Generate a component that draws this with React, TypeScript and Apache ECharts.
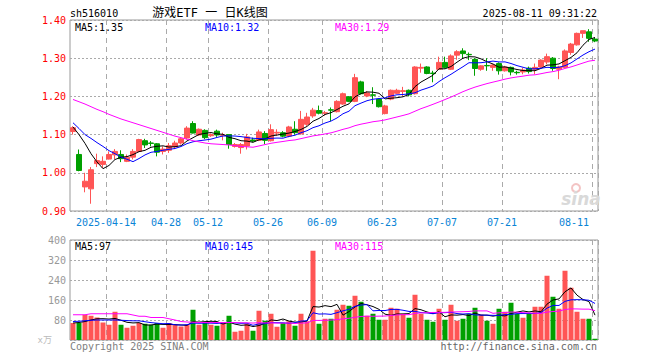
import React, { useEffect, useRef } from "react";
import * as echarts from "echarts";

const dates = [
  "2025-04-03",
  "2025-04-07","2025-04-08","2025-04-09","2025-04-10","2025-04-11",
  "2025-04-14","2025-04-15","2025-04-16","2025-04-17","2025-04-18",
  "2025-04-21","2025-04-22","2025-04-23","2025-04-24","2025-04-25",
  "2025-04-28","2025-04-29","2025-04-30",
  "2025-05-06","2025-05-07","2025-05-08","2025-05-09",
  "2025-05-12","2025-05-13","2025-05-14","2025-05-15","2025-05-16",
  "2025-05-19","2025-05-20","2025-05-21","2025-05-22","2025-05-23",
  "2025-05-26","2025-05-27","2025-05-28","2025-05-29","2025-05-30",
  "2025-06-03","2025-06-04","2025-06-05","2025-06-06",
  "2025-06-09","2025-06-10","2025-06-11","2025-06-12","2025-06-13",
  "2025-06-16","2025-06-17","2025-06-18","2025-06-19","2025-06-20",
  "2025-06-23","2025-06-24","2025-06-25","2025-06-26","2025-06-27",
  "2025-06-30","2025-07-01","2025-07-02","2025-07-03","2025-07-04",
  "2025-07-07","2025-07-08","2025-07-09","2025-07-10","2025-07-11",
  "2025-07-14","2025-07-15","2025-07-16","2025-07-17","2025-07-18",
  "2025-07-21","2025-07-22","2025-07-23","2025-07-24","2025-07-25",
  "2025-07-28","2025-07-29","2025-07-30","2025-07-31","2025-08-01",
  "2025-08-04","2025-08-05","2025-08-06","2025-08-07","2025-08-08",
  "2025-08-11",
];

const opens = [
  1.108,1.048,0.963,0.958,1.024,1.022,1.036,1.047,1.048,1.030,
  1.041,1.056,1.084,1.078,1.076,1.056,1.059,1.068,1.078,1.091,
  1.129,1.099,1.111,1.097,1.109,1.098,1.100,1.069,1.066,1.070,
  1.086,1.085,1.103,1.084,1.104,1.105,1.096,1.114,1.102,1.127,
  1.149,1.163,1.156,1.165,1.160,1.180,1.199,1.187,1.238,1.201,
  1.204,1.193,1.155,1.193,1.208,1.213,1.216,1.207,1.274,1.277,
  1.261,1.271,1.289,1.271,1.308,1.319,1.310,1.297,1.271,1.281,
  1.276,1.286,1.267,1.276,1.263,1.264,1.274,1.271,1.277,1.290,
  1.300,1.271,1.276,1.315,1.335,1.365,1.369,1.350,
];
const closes = [
  1.118,1.006,0.978,1.008,1.032,1.030,1.048,1.056,1.037,1.041,
  1.056,1.087,1.073,1.077,1.054,1.062,1.071,1.078,1.089,1.117,
  1.104,1.114,1.092,1.100,1.099,1.099,1.074,1.074,1.074,1.094,
  1.083,1.107,1.085,1.113,1.106,1.096,1.120,1.105,1.140,1.146,
  1.164,1.156,1.157,1.164,1.187,1.207,1.187,1.249,1.207,1.209,
  1.203,1.173,1.175,1.216,1.216,1.215,1.204,1.277,1.276,1.260,
  1.260,1.289,1.276,1.306,1.317,1.312,1.309,1.273,1.280,1.280,
  1.282,1.267,1.277,1.264,1.262,1.269,1.265,1.276,1.295,1.304,
  1.273,1.277,1.319,1.337,1.365,1.372,1.352,1.345,
];
const lows = [
  1.100,1.004,0.949,0.919,1.015,1.013,1.035,1.035,1.028,1.028,
  1.035,1.054,1.065,1.069,1.043,1.048,1.052,1.062,1.074,1.087,
  1.103,1.097,1.088,1.094,1.094,1.085,1.063,1.066,1.050,1.061,
  1.080,1.083,1.075,1.082,1.097,1.093,1.093,1.100,1.100,1.123,
  1.144,1.153,1.150,1.135,1.158,1.178,1.185,1.185,1.205,1.198,
  1.180,1.171,1.153,1.190,1.206,1.201,1.200,1.205,1.262,1.258,
  1.237,1.269,1.273,1.269,1.296,1.300,1.295,1.254,1.267,1.267,
  1.267,1.257,1.265,1.255,1.257,1.258,1.260,1.258,1.274,1.284,
  1.267,1.245,1.274,1.309,1.333,1.353,1.343,1.342,
];
const highs = [
  1.122,1.061,1.000,1.015,1.050,1.043,1.056,1.062,1.059,1.048,
  1.062,1.089,1.089,1.083,1.078,1.069,1.078,1.084,1.092,1.122,
  1.135,1.116,1.114,1.103,1.113,1.105,1.100,1.078,1.078,1.102,
  1.092,1.113,1.109,1.127,1.114,1.109,1.123,1.135,1.162,1.157,
  1.170,1.176,1.162,1.171,1.190,1.210,1.201,1.259,1.241,1.214,
  1.224,1.195,1.178,1.218,1.220,1.225,1.218,1.279,1.286,1.279,
  1.267,1.304,1.304,1.310,1.321,1.326,1.315,1.300,1.282,1.300,
  1.284,1.289,1.280,1.278,1.267,1.275,1.278,1.286,1.297,1.312,
  1.303,1.280,1.323,1.340,1.367,1.372,1.376,1.354,
];
// volume, 万
const volumes = [
  68,68,101,97,90,70,61,113,61,49,
  57,68,65,61,68,49,68,61,54,61,
  121,61,70,61,57,70,97,33,37,65,
  37,117,77,105,53,68,75,57,105,75,
  357,65,85,85,121,141,137,177,153,97,
  105,81,81,129,125,105,89,181,105,81,
  73,125,81,141,77,85,105,129,101,77,
  65,125,113,149,105,89,105,133,133,257,
  173,125,277,209,113,85,85,5,
];

// moving-average values before enough bars exist in view
const ma5Head = [1.120, 1.100, 1.077, 1.050];
const ma10Head = [1.131, 1.116, 1.100, 1.090, 1.079, 1.069, 1.058, 1.050, 1.041];
const ma30Head = [
  1.192,1.186,1.180,1.173,1.166,1.160,1.153,1.147,1.141,1.136,
  1.131,1.126,1.121,1.116,1.111,1.106,1.101,1.096,1.092,1.088,
  1.084,1.081,1.078,1.076,1.075,1.074,1.073,1.071,1.069,
];
const vma5Head = [68, 70, 74, 80];
const vma10Head = [74, 75, 77, 79, 80, 80, 80, 80, 79];
const vma30Head = [
  101,101,101,105,105,105,105,105,105,105,
  100,95,95,90,90,90,85,80,74,72,
  71,70,70,70,70,70,70,70,69,
];

const xTickDates = [
  "2025-04-14","2025-04-28","2025-05-12","2025-05-26","2025-06-09",
  "2025-06-23","2025-07-07","2025-07-21","2025-08-11",
];
const priceTicks = { min: 0.9, max: 1.4, step: 0.1 };
const volTicks = { min: 0, max: 400, step: 80 };

const priceLegend = ["MA5:1.35", "MA10:1.32", "MA30:1.29"];
const volLegend = ["MA5:97", "MA10:145", "MA30:115"];

const RED = "#ff5555";
const GREEN = "#00a000";
const MONO = "'DejaVu Sans Mono','Liberation Mono',monospace";
const CJK = "'DejaVu Sans Mono','Noto Sans CJK SC',sans-serif";

function movingAvg(vals: number[], n: number, head: number[], digits: number) {
  return vals.map((_, i) => {
    if (i < head.length) return head[i];
    let s = 0;
    for (let k = i - n + 1; k <= i; k++) s += vals[k];
    return +(s / n).toFixed(digits);
  });
}

export default function App() {
  const ref = useRef<HTMLDivElement>(null);
  useEffect(() => {
    if (!ref.current) return;
    const chart = echarts.init(ref.current, undefined, { renderer: "svg" });
    const tickIdx = new Set(xTickDates.map((d) => dates.indexOf(d)));
    const firstIdx = dates.indexOf(xTickDates[0]);
    const showTick = (i: number) => tickIdx.has(i);

    const ma5 = movingAvg(closes, 5, ma5Head, 4);
    const ma10 = movingAvg(closes, 10, ma10Head, 4);
    const ma30 = movingAvg(closes, 30, ma30Head, 4);
    const vma5 = movingAvg(volumes, 5, vma5Head, 1);
    const vma10 = movingAvg(volumes, 10, vma10Head, 1);
    const vma30 = movingAvg(volumes, 30, vma30Head, 1);

    const vSplit = {
      show: true,
      interval: (i: number) => showTick(i),
      lineStyle: { color: "#aaaaaa", type: [5, 4] as any, width: 1 },
    };
    const hSplit = {
      show: true,
      lineStyle: { color: "#aaaaaa", type: [2, 2] as any, width: 1 },
    };
    const lineS = (name: string, data: number[], color: string, xi: number) => ({
      name,
      type: "line",
      xAxisIndex: xi,
      yAxisIndex: xi,
      data,
      showSymbol: false,
      symbol: "none",
      lineStyle: { color, width: 1 },
      itemStyle: { color },
      z: 5,
    });
    const txt = (x: number, y: number, text: string, fill: string, opts: any = {}) => ({
      type: "text",
      x,
      y,
      silent: true,
      style: {
        text,
        fill,
        font: `${opts.size || 10}px ${opts.family || MONO}`,
        textAlign: opts.align || "left",
        textVerticalAlign: "middle",
        verticalAlign: "middle",
      },
      z: 10,
    });

    chart.setOption({
      animation: false,
      backgroundColor: "#ffffff",
      grid: [
        { left: 70, top: 20, width: 528, height: 191, show: true, borderColor: "#999999", borderWidth: 1 },
        { left: 70, top: 240, width: 528, height: 100, show: true, borderColor: "#999999", borderWidth: 1 },
      ],
      xAxis: [
        {
          type: "category",
          gridIndex: 0,
          data: dates,
          boundaryGap: true,
          axisLine: { show: false },
          axisTick: { show: false },
          axisLabel: {
            interval: (i: number) => showTick(i),
            formatter: (v: string, i: number) => (i === firstIdx ? v : v.slice(5)),
            color: "#0a84d6",
            fontFamily: MONO,
            fontSize: 10,
            margin: 6,
            padding: [0, 6, 0, 0],
            alignMaxLabel: "right",
          },
          splitLine: vSplit,
        },
        {
          type: "category",
          gridIndex: 1,
          data: dates,
          boundaryGap: true,
          axisLine: { show: false },
          axisTick: { show: false },
          axisLabel: { show: false },
          splitLine: vSplit,
        },
      ],
      yAxis: [
        {
          type: "value",
          gridIndex: 0,
          min: priceTicks.min,
          max: priceTicks.max,
          interval: priceTicks.step,
          axisLine: { show: false },
          axisTick: { show: false },
          axisLabel: {
            color: "#ff0000",
            fontFamily: MONO,
            fontSize: 10,
            margin: 4,
            formatter: (v: number) => v.toFixed(2),
          },
          splitLine: hSplit,
        },
        {
          type: "value",
          gridIndex: 1,
          min: volTicks.min,
          max: volTicks.max,
          interval: volTicks.step,
          axisLine: { show: false },
          axisTick: { show: false },
          axisLabel: {
            color: "#999999",
            fontFamily: MONO,
            fontSize: 10,
            margin: 4,
            formatter: (v: number) => (v === 0 ? "" : String(v)),
          },
          splitLine: hSplit,
        },
      ],
      series: [
        {
          name: "K",
          type: "candlestick",
          xAxisIndex: 0,
          yAxisIndex: 0,
          barWidth: 5,
          data: dates.map((_, i) => [opens[i], closes[i], lows[i], highs[i]]),
          itemStyle: {
            color: RED,
            color0: GREEN,
            borderColor: RED,
            borderColor0: GREEN,
            borderWidth: 1,
          },
          z: 3,
        },
        lineS("MA5", ma5, "#000000", 0),
        lineS("MA10", ma10, "#0000ff", 0),
        lineS("MA30", ma30, "#ff00ff", 0),
        {
          name: "VOL",
          type: "bar",
          xAxisIndex: 1,
          yAxisIndex: 1,
          barWidth: 5,
          data: volumes.map((v, i) => ({
            value: v,
            itemStyle: { color: closes[i] >= opens[i] ? RED : GREEN },
          })),
          z: 3,
        },
        lineS("VMA5", vma5, "#000000", 1),
        lineS("VMA10", vma10, "#0000ff", 1),
        lineS("VMA30", vma30, "#ff00ff", 1),
      ],
      graphic: [
        txt(70, 13, "sh516010", "#000000"),
        txt(210, 13, "游戏ETF 一 日K线图", "#000000", { size: 12, family: CJK, align: "center" }),
        txt(597, 13, "2025-08-11 09:31:22", "#000000", { align: "right" }),
        txt(75, 27, priceLegend[0], "#000000"),
        txt(205, 27, priceLegend[1], "#0000ff"),
        txt(335, 27, priceLegend[2], "#ff00ff"),
        txt(75, 246, volLegend[0], "#000000"),
        txt(205, 246, volLegend[1], "#0000ff"),
        txt(335, 246, volLegend[2], "#ff00ff"),
        txt(52, 340, "x万", "#bbbbbb", { size: 9, family: CJK, align: "right" }),
        txt(70, 346, "Copyright 2025 SINA.COM", "#808080"),
        txt(597, 346, "http://finance.sina.com.cn", "#666666", { align: "right" }),
        {
          type: "circle",
          silent: true,
          shape: { cx: 576, cy: 188, r: 4 },
          style: { fill: "none", stroke: "#f3c4c4", lineWidth: 2 },
          z: 1,
        },
        {
          type: "text",
          x: 581,
          y: 199,
          silent: true,
          style: {
            text: "sina",
            fill: "#d9d9d9",
            font: "italic bold 17px 'DejaVu Sans',sans-serif",
            textAlign: "center",
            verticalAlign: "middle",
          },
          z: 1,
        },
      ],
    });
    return () => chart.dispose();
  }, []);
  return (
    <div
      ref={ref}
      style={{ position: "fixed", left: 0, top: 0, width: 660, height: 360, background: "#fff" }}
    />
  );
}
